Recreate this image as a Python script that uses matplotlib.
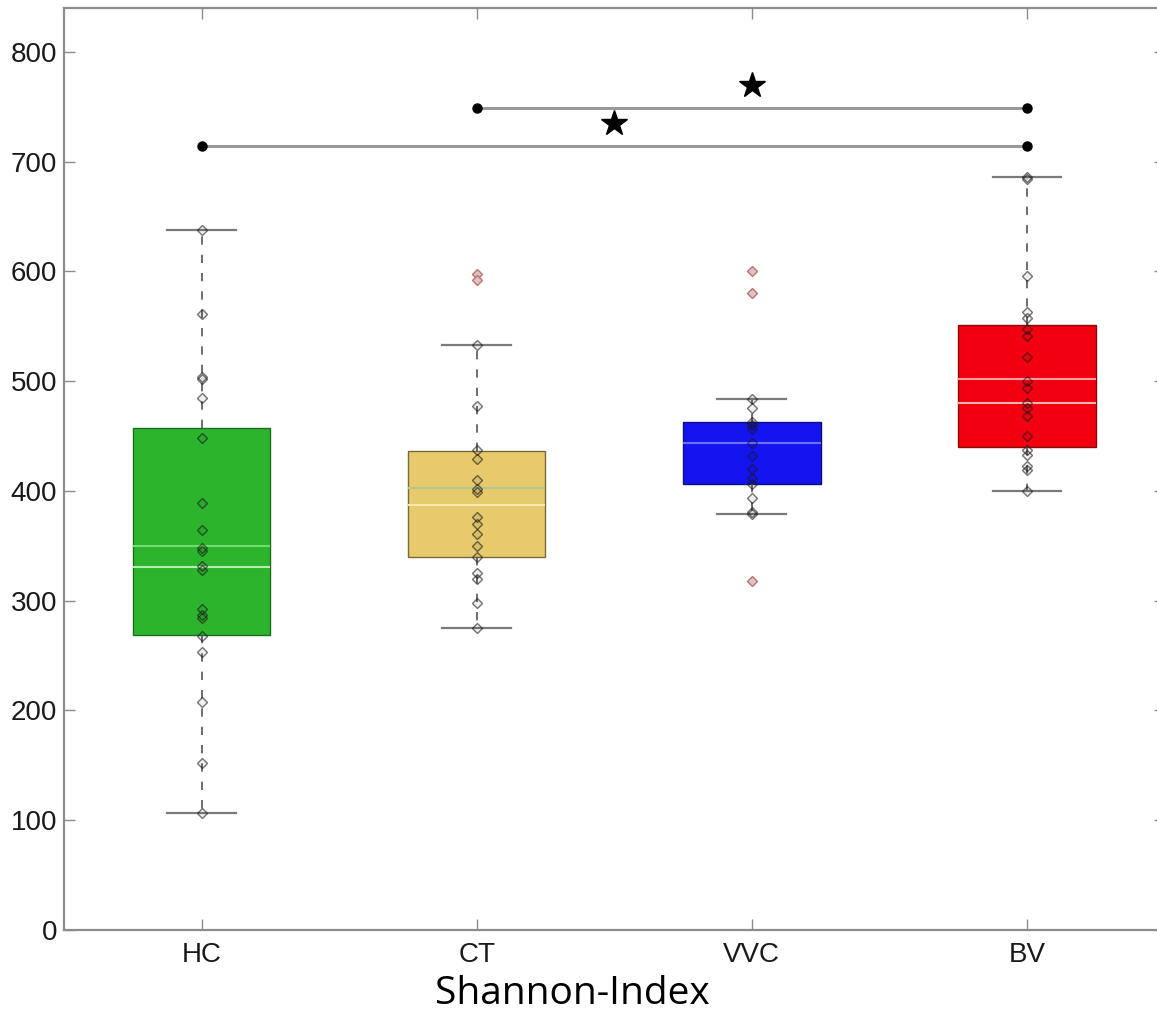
import matplotlib
matplotlib.use("Agg")
import matplotlib.pyplot as plt

# groups and box statistics
groups = ["HC", "CT", "VVC", "BV"]
q1 = [269, 340, 406, 440]
q3 = [457, 436, 463, 551]
medians = [331, 387, 444, 480]
means = [350, 403, 444, 502]
whisk_lo = [107, 275, 379, 400]
whisk_hi = [638, 533, 484, 686]
outliers = [[], [598, 592], [600, 580, 318], []]

# individual samples (diamonds)
hc_pts = [638, 561, 504, 502, 485, 448, 389, 364, 348, 345, 332, 328,
          292, 287, 284, 268, 253, 208, 152, 107]
ct_pts = [533, 477, 437, 429, 410, 402, 399, 376, 370, 361, 350, 340,
          325, 320, 298, 275]
vvc_pts = [484, 476, 463, 460, 456, 444, 432, 420, 412, 406, 394, 381, 379]
bv_pts = [686, 684, 596, 563, 558, 548, 541, 522, 500, 494, 480, 476,
          468, 450, 437, 433, 423, 419, 400]
points = [hc_pts, ct_pts, vvc_pts, bv_pts]

# significance brackets
sig_pairs = [(1, 4), (2, 4)]
sig_y = [714, 749]
star_x = [2.5, 3]
star_y = [735, 770]

box_colors = ["#2db42d", "#e6ca6c", "#1414f0", "#f2000f"]
edge_colors = ["#1d6e1d", "#7a6a3a", "#10107a", "#8a0a0a"]
median_colors = ["#b4f0b4", "#f6e8ae", "#7070ff", "#ffb4b4"]
mean_colors = ["#6edc6e", "#b4c88a", "#7070ff", "#ffa0a0"]

plt.rcParams["font.family"] = ["Liberation Sans", "DejaVu Sans"]

fig = plt.figure(figsize=(11.57, 10.14), dpi=100)
ax = fig.add_axes([64 / 1157, 84 / 1014, 1100.5 / 1157, 922 / 1014])

stats = []
for i, g in enumerate(groups):
    stats.append(dict(label=g, q1=q1[i], q3=q3[i], med=medians[i],
                      mean=means[i], whislo=whisk_lo[i],
                      whishi=whisk_hi[i], fliers=outliers[i]))

bp = ax.bxp(stats, positions=[1, 2, 3, 4], widths=0.5, capwidths=0.25,
            patch_artist=True, showmeans=True, meanline=True,
            showfliers=True,
            whiskerprops=dict(color="#555555", lw=1.2,
                              linestyle=(0, (5, 6))),
            capprops=dict(color="#7a7a7a", lw=1.6),
            flierprops=dict(marker="D", markersize=5,
                            markerfacecolor="#d8c4c4",
                            markeredgecolor="#c07070", mew=1.0))

for i in range(len(groups)):
    bp["boxes"][i].set_facecolor(box_colors[i])
    bp["boxes"][i].set_edgecolor(edge_colors[i])
    bp["boxes"][i].set_linewidth(1.0)
    bp["medians"][i].set_color(median_colors[i])
    bp["medians"][i].set_linewidth(1.5)
    bp["means"][i].set_color(mean_colors[i])
    bp["means"][i].set_linestyle("-")
    bp["means"][i].set_linewidth(1.5)

for i, pts in enumerate(points):
    ax.plot([i + 1] * len(pts), pts, linestyle="none", marker="D",
            markersize=5.2, markerfacecolor=(0, 0, 0, 0.06),
            markeredgecolor=(0.1, 0.1, 0.1, 0.6), mew=1.0, zorder=4)

for (a, b), y in zip(sig_pairs, sig_y):
    ax.plot([a, b], [y, y], color="#999999", lw=2.2, zorder=3)
    ax.plot([a, b], [y, y], linestyle="none", marker="o", color="black",
            markersize=6.5, zorder=4)
ax.plot(star_x, star_y, linestyle="none", marker="*", color="black",
        markersize=19, zorder=4)

ax.set_xlim(0.5, 4.5)
ax.set_ylim(0, 840)
ax.set_yticks(range(0, 801, 100))
ax.set_xticks([1, 2, 3, 4])
ax.set_xticklabels(groups)

for s in ax.spines.values():
    s.set_color("#8c8c8c")
    s.set_linewidth(1.6)

ax.tick_params(direction="in", length=8, width=1.0, color="#8c8c8c",
               top=True, right=True, labelsize=20, labelcolor="#1a1a1a")
ax.tick_params(axis="y", pad=5)
ax.tick_params(axis="x", pad=9)

fig.text(572 / 1157, 10 / 1014, "Shannon-Index", ha="center", va="baseline",
         fontsize=28, family=["Open Sans", "DejaVu Sans"], color="black")

fig.savefig("out.png", dpi=100)
